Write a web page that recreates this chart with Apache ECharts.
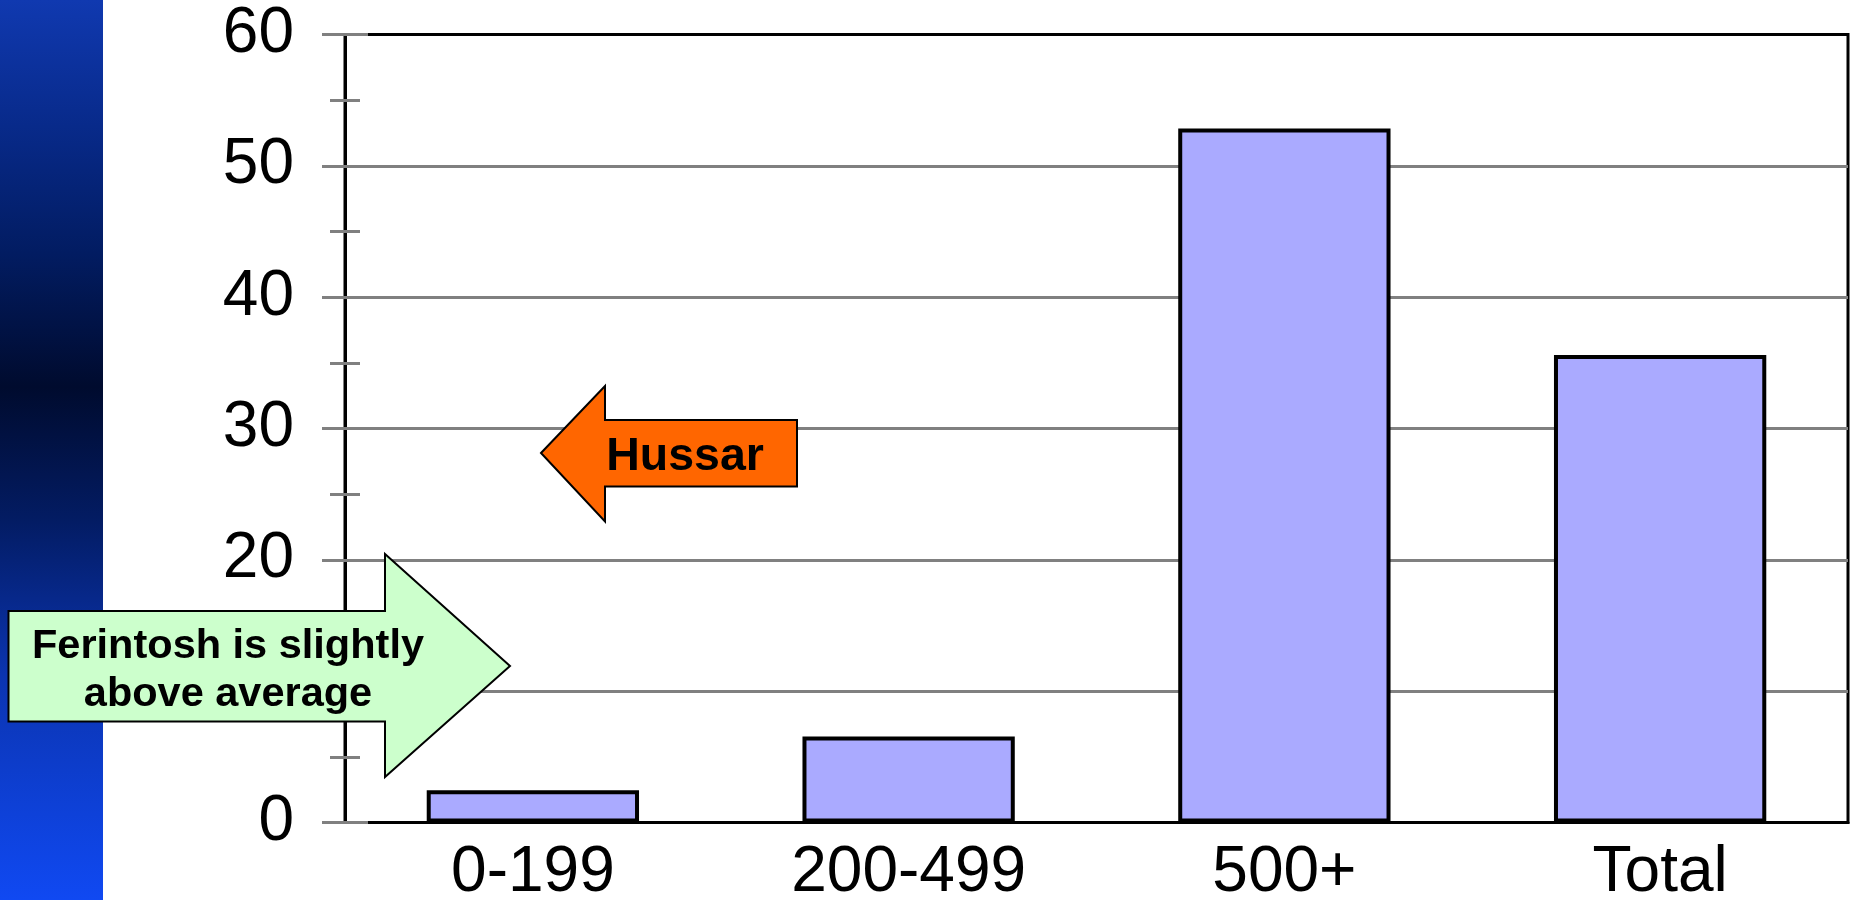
<!DOCTYPE html>
<html>
<head>
<meta charset="utf-8">
<script src="https://cdn.jsdelivr.net/npm/echarts@6/dist/echarts.min.js"></script>
<style>
  html, body { margin: 0; padding: 0; background: #fff; }
  #chart { width: 1860px; height: 900px; }
</style>
</head>
<body>
<div id="chart"></div>
<script>
// chart data
var categories = ['0-199', '200-499', '500+', 'Total'];
var values = [2.45, 6.55, 52.85, 35.6];
var yMin = 0;
var yMax = 60;
var yStep = 10;

var font = 'Liberation Sans, Arial, sans-serif';
var gray = '#808080';

var myChart = echarts.init(document.getElementById('chart'));
myChart.setOption({
    backgroundColor: '#fff',
    animation: false,
    grid: {
        left: 345,
        right: 12,
        top: 34.5,
        bottom: 77.5,
        outerBoundsMode: 'none',
        containLabel: false,
        show: true,
        borderColor: '#000',
        borderWidth: 3,
        backgroundColor: 'transparent'
    },
    xAxis: [
        {
            type: 'category',
            position: 'bottom',
            data: categories,
            axisLine: { lineStyle: { color: '#000', width: 3 } },
            axisTick: { inside: false, length: 12, lineStyle: { color: gray, width: 3 } },
            axisLabel: { color: '#000', fontSize: 64, fontFamily: font, margin: 19 },
            splitLine: { show: false }
        },
        {
            type: 'category',
            position: 'bottom',
            data: categories,
            axisLine: { show: false },
            axisTick: { inside: true, length: 12, lineStyle: { color: gray, width: 3 } },
            axisLabel: { show: false },
            splitLine: { show: false }
        }
    ],
    yAxis: [
        {
            type: 'value',
            position: 'left',
            min: yMin,
            max: yMax,
            interval: yStep,
            axisLine: { show: true, lineStyle: { color: '#000', width: 3 } },
            axisTick: { show: true, inside: false, length: 23, lineStyle: { color: gray, width: 3 } },
            minorTick: { show: true, splitNumber: 2, length: 15, lineStyle: { color: gray, width: 3 } },
            axisLabel: { color: '#000', fontSize: 64, fontFamily: font, margin: 51 },
            splitLine: { show: true, showMaxLine: false, lineStyle: { color: gray, width: 3 } }
        },
        {
            type: 'value',
            position: 'left',
            min: yMin,
            max: yMax,
            interval: yStep,
            axisLine: { show: false },
            axisTick: { show: true, inside: true, length: 23, lineStyle: { color: gray, width: 3 } },
            minorTick: { show: true, splitNumber: 2, length: 15, lineStyle: { color: gray, width: 3 } },
            axisLabel: { show: false },
            splitLine: { show: false }
        }
    ],
    series: [
        {
            type: 'bar',
            xAxisIndex: 0,
            yAxisIndex: 0,
            data: values,
            barWidth: '56.5%',
            itemStyle: { color: '#aaaaff', borderColor: '#000', borderWidth: 4 }
        }
    ],
    graphic: [
        {
            type: 'rect',
            left: 0,
            top: 0,
            shape: { x: 0, y: 0, width: 103, height: 900 },
            style: {
                fill: new echarts.graphic.LinearGradient(0, 0, 0, 1, [
                    { offset: 0, color: '#1039b0' },
                    { offset: 0.14, color: '#082a8a' },
                    { offset: 0.28, color: '#021c62' },
                    { offset: 0.43, color: '#000b2e' },
                    { offset: 0.58, color: '#031c64' },
                    { offset: 0.75, color: '#0b34b0' },
                    { offset: 1, color: '#1049f2' }
                ])
            },
            z: 10
        },
        {
            type: 'polygon',
            shape: {
                points: [[541, 453], [605, 386], [605, 420], [797, 420], [797, 486.5], [605, 486.5], [605, 521.5]]
            },
            style: { fill: '#ff6600', stroke: '#000', lineWidth: 2 },
            z: 20
        },
        {
            type: 'text',
            x: 685,
            y: 457,
            style: {
                text: 'Hussar',
                fill: '#000',
                font: 'bold 46.5px Liberation Sans, Arial, sans-serif',
                align: 'center',
                verticalAlign: 'middle'
            },
            z: 21
        },
        {
            type: 'polygon',
            shape: {
                points: [[8.5, 611], [385, 611], [385, 554], [510, 666], [385, 777], [385, 721.5], [8.5, 721.5]]
            },
            style: { fill: '#ccffcc', stroke: '#000', lineWidth: 2 },
            z: 20
        },
        {
            type: 'text',
            x: 228,
            y: 670.5,
            style: {
                text: 'Ferintosh is slightly\nabove average',
                fill: '#000',
                font: 'bold 41.5px Liberation Sans, Arial, sans-serif',
                lineHeight: 48,
                align: 'center',
                verticalAlign: 'middle'
            },
            z: 21
        }
    ]
}, true);
</script>
</body>
</html>
